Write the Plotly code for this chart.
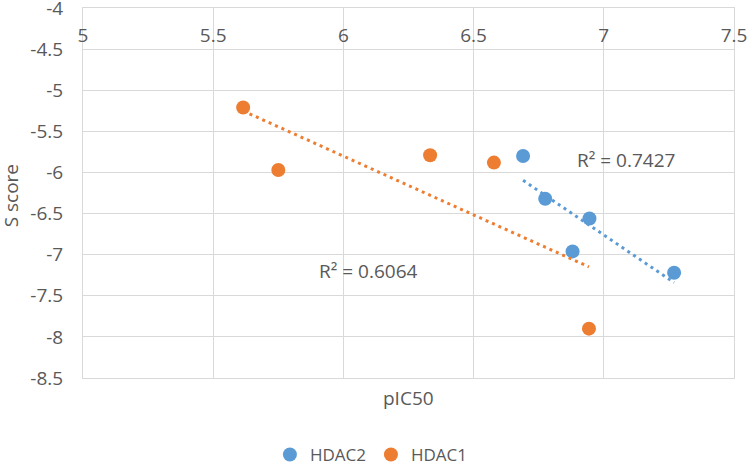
import numpy as np
import plotly.graph_objects as go

# Data
hdac2_x = [6.69, 6.775, 6.945, 6.88, 7.27]
hdac2_y = [-5.80, -6.32, -6.56, -6.96, -7.22]
hdac1_x = [5.615, 5.75, 6.333, 6.578, 6.943]
hdac1_y = [-5.21, -5.97, -5.79, -5.88, -7.90]
r2_labels = ["R² = 0.7427", "R² = 0.6064"]
x_ticks = [5, 5.5, 6, 6.5, 7, 7.5]
y_ticks = [-4, -4.5, -5, -5.5, -6, -6.5, -7, -7.5, -8, -8.5]

BLUE = "#5B9BD5"
ORANGE = "#ED7D31"
GRID = "#D9D9D9"
TXT = "#595959"
FONT = "Open Sans"

def trend(xs, ys):
    m, b = np.polyfit(xs, ys, 1)
    xx = np.array([min(xs), max(xs)])
    return xx, m * xx + b

fig = go.Figure()
fig.add_trace(go.Scatter(x=hdac2_x, y=hdac2_y, mode="markers", name="HDAC2",
                         marker=dict(color=BLUE, size=14)))
fig.add_trace(go.Scatter(x=hdac1_x, y=hdac1_y, mode="markers", name="HDAC1",
                         marker=dict(color=ORANGE, size=14)))
tx, ty = trend(hdac2_x, hdac2_y)
fig.add_trace(go.Scatter(x=tx, y=ty, mode="lines", showlegend=False,
                         line=dict(color=BLUE, width=3, dash="3px,4px")))
tx, ty = trend(hdac1_x, hdac1_y)
fig.add_trace(go.Scatter(x=tx, y=ty, mode="lines", showlegend=False,
                         line=dict(color=ORANGE, width=3, dash="3px,4px")))
# invisible trace carrying the top tick-label axis
fig.add_trace(go.Scatter(x=x_ticks, y=[-4] * len(x_ticks), xaxis="x2", mode="markers",
                         marker=dict(opacity=0), showlegend=False, hoverinfo="skip"))

fig.add_annotation(x=7.087, y=-5.85, text=r2_labels[0], showarrow=False,
                   font=dict(size=19, color=TXT, family=FONT))
fig.add_annotation(x=6.097, y=-7.20, text=r2_labels[1], showarrow=False,
                   font=dict(size=19, color=TXT, family=FONT))
fig.add_annotation(x=0.5, xref="paper", y=-0.053, yref="paper", text="pIC50",
                   xanchor="center", yanchor="middle",
                   showarrow=False, font=dict(size=19, color=TXT, family=FONT))
fig.add_annotation(x=-0.11, xref="paper", y=0.492, yref="paper", text="S score",
                   xanchor="center", yanchor="middle",
                   textangle=-90, showarrow=False,
                   font=dict(size=19, color=TXT, family=FONT))

fig.update_layout(
    width=749, height=463,
    margin=dict(l=83, r=15, t=8, b=85, autoexpand=False),
    paper_bgcolor="white", plot_bgcolor="white",
    font=dict(family=FONT, color=TXT, size=18),
    xaxis=dict(range=[5, 7.5], side="top", tickvals=x_ticks, showticklabels=False,
               automargin=False,
               showgrid=True, gridcolor=GRID, gridwidth=1,
               showline=True, linecolor=GRID, linewidth=1, mirror=True,
               zeroline=False, ticks=""),
    xaxis2=dict(range=[5, 7.5], overlaying="x", side="bottom", anchor="free",
                position=0.968, tickvals=x_ticks,
                ticktext=[f"{v:g}" for v in x_ticks],
                showgrid=False, showline=False, zeroline=False, ticks="",
                automargin=False, ticklabelstandoff=2, ticklabeloverflow="allow",
                tickfont=dict(size=19, color=TXT)),
    yaxis=dict(range=[-8.5, -4], tickvals=y_ticks,
               ticktext=[f"{v:g}" for v in y_ticks],
               showgrid=True, gridcolor=GRID, gridwidth=1,
               showline=True, linecolor=GRID, linewidth=1, mirror=True,
               zeroline=False, ticks="", ticklabelstandoff=15, automargin=False,
               ticklabeloverflow="allow",
               tickfont=dict(size=19, color=TXT)),
    legend=dict(orientation="h", x=0.443, xanchor="center", y=-0.208, yanchor="middle",
                font=dict(size=17, color=TXT), itemwidth=30),
)

fig.write_html("out.html", config={"displayModeBar": False},
               post_script="document.body.style.margin='0';document.body.style.overflow='hidden';")
